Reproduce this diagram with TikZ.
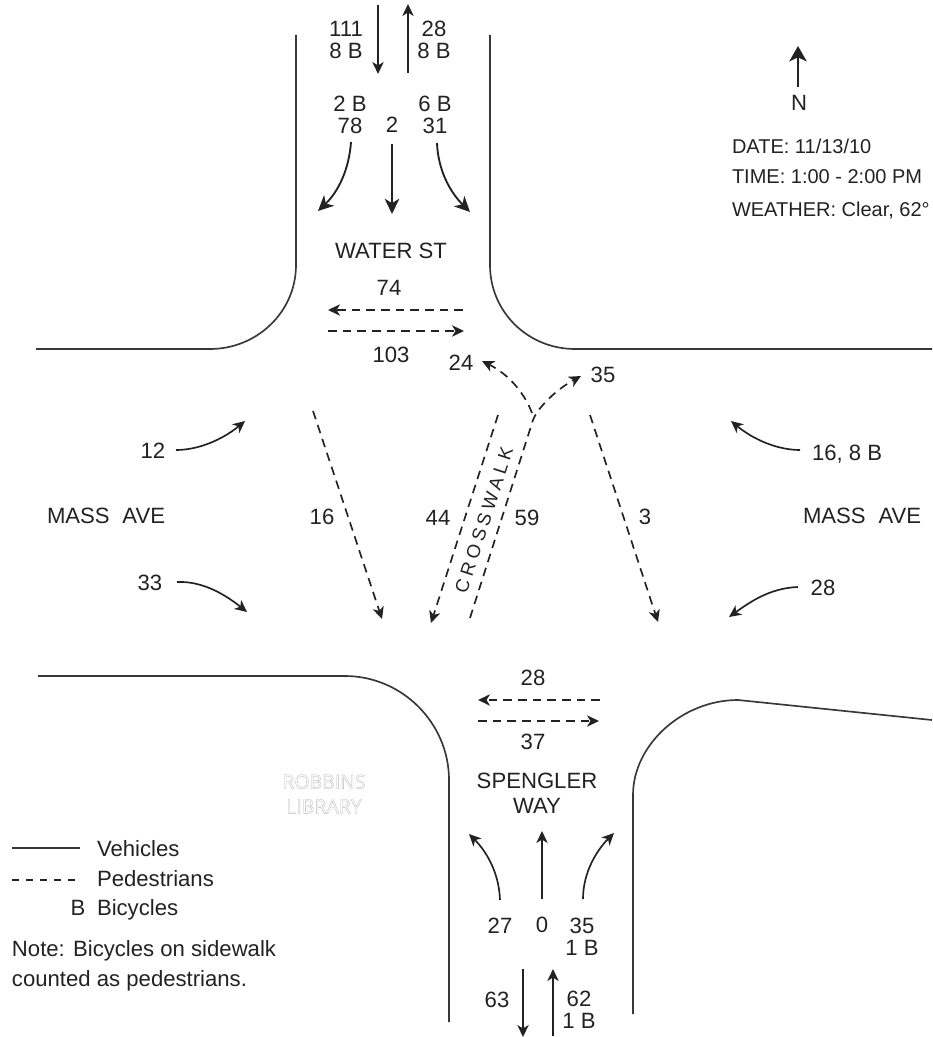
\documentclass[tikz,border=0pt]{standalone}
\usepackage{fontspec}
\setmainfont{Liberation Sans}
\newfontfamily\robfont{Open Sans}
\usetikzlibrary{arrows.meta}
\definecolor{ink}{HTML}{222222}
\tikzset{
  x=0.75pt,y=-0.75pt,
  road/.style={draw=ink!90,line width=1.25pt,line cap=butt},
  veh/.style={draw=ink,line width=1.25pt,-{Stealth[length=9pt,width=8.5pt,inset=2.6pt]}},
  vehbig/.style={draw=ink,line width=1.4pt,-{Stealth[length=11.5pt,width=11pt,inset=3.4pt]}},
  northarrow/.style={draw=ink,line width=2pt,-{Stealth[length=11.5pt,width=13pt,inset=3pt]}},
  ped/.style={draw=ink,line width=1.25pt,dash pattern=on 6.5pt off 4.5pt,-{Stealth[length=9pt,width=8.5pt,inset=2.6pt]}},
  lab/.style={inner sep=0pt,outer sep=0pt,text=ink,font=\fontsize{16.6}{16.4}\selectfont,align=center},
  labl/.style={lab,anchor=west,align=left},
  info/.style={labl,font=\fontsize{15}{16}\selectfont},
}
\begin{document}
\begin{tikzpicture}
\useasboundingbox (0,0) rectangle (932,1037);
% streets
\draw[road] (296,35) -- (296,265) .. controls (296,312) and (257,349) .. (210,349) -- (36,349);
\draw[road] (490,35) -- (490,265) .. controls (490,312) and (528,349) .. (575,349) -- (932,349);
\draw[road] (38,676) -- (345,676) .. controls (402,676) and (449,723) .. (449,780) -- (449,1022);
\draw[road] (633,1014) -- (633,795) .. controls (633,745) and (682,700) .. (738,700) -- (932,720);
% free ends
\coordinate (t1a) at (378,5);    \coordinate (t1b) at (378,74);
\coordinate (t2a) at (408,73);   \coordinate (t2b) at (408,4);
\coordinate (n1a) at (351,142);  \coordinate (n1b) at (318,211);
\coordinate (n2a) at (392,144);  \coordinate (n2b) at (392,214);
\coordinate (n3a) at (437,143);  \coordinate (n3b) at (470,212);
\coordinate (w1a) at (463,310);  \coordinate (w1b) at (328,310);
\coordinate (w2a) at (328,331);  \coordinate (w2b) at (464,331);
\coordinate (e1a) at (176,450);  \coordinate (e1b) at (245,421);
\coordinate (e2a) at (177,582);  \coordinate (e2b) at (247,612);
\coordinate (e3a) at (800,450);  \coordinate (e3b) at (731,421);
\coordinate (e4a) at (798,587);  \coordinate (e4b) at (729,617);
\coordinate (p1a) at (313,411);  \coordinate (p1b) at (382,619);
\coordinate (p2a) at (590,415);  \coordinate (p2b) at (658,622);
\coordinate (c1a) at (498,415);  \coordinate (c1b) at (431,623);
\coordinate (c2a) at (470,618);  \coordinate (c2b) at (533,420);
\coordinate (c2c) at (581,376);
\coordinate (c3a) at (532,413);  \coordinate (c3b) at (482,361);
\coordinate (s1a) at (600,700);  \coordinate (s1b) at (478,700);
\coordinate (s2a) at (478,721);  \coordinate (s2b) at (599,721);
\coordinate (u1a) at (500,900);  \coordinate (u1b) at (469,834);
\coordinate (u2a) at (542,899);  \coordinate (u2b) at (542,831);
\coordinate (u3a) at (583,899);  \coordinate (u3b) at (614,833);
\coordinate (b1a) at (523,969);  \coordinate (b1b) at (523,1037);
\coordinate (b2a) at (553,1036); \coordinate (b2b) at (553,969);
\coordinate (na) at (798,87);    \coordinate (nb) at (798,46);
\coordinate (la) at (12,848);    \coordinate (lb) at (80,848);
\coordinate (ma) at (12,880);    \coordinate (mb) at (80,880);
% connectors
\draw[veh] (t1a) -- (t1b);
\draw[veh] (t2a) -- (t2b);
\draw[vehbig] (n1a) .. controls (349,170) and (338,192) .. (n1b);
\draw[vehbig] (n2a) -- (n2b);
\draw[vehbig] (n3a) .. controls (438,170) and (450,192) .. (n3b);
\draw[ped] (w1a) -- (w1b);
\draw[ped] (w2a) -- (w2b);
\draw[veh] (e1a) .. controls (198,450) and (222,440) .. (e1b);
\draw[veh] (e2a) .. controls (200,581) and (222,592) .. (e2b);
\draw[veh] (e3a) .. controls (778,450) and (754,440) .. (e3b);
\draw[veh] (e4a) .. controls (770,588) and (750,602) .. (e4b);
\draw[ped] (p1a) -- (p1b);
\draw[ped] (p2a) -- (p2b);
\draw[ped] (c1a) -- (c1b);
\draw[ped] (c2a) -- (c2b) .. controls (536,411) and (552,392) .. (c2c);
\draw[ped] (c3a) .. controls (524,392) and (508,374) .. (c3b);
\draw[ped] (s1a) -- (s1b);
\draw[ped] (s2a) -- (s2b);
\draw[veh] (u1a) .. controls (499,872) and (486,851) .. (u1b);
\draw[veh] (u2a) -- (u2b);
\draw[veh] (u3a) .. controls (583,872) and (597,850) .. (u3b);
\draw[veh] (b1a) -- (b1b);
\draw[veh] (b2a) -- (b2b);
\draw[northarrow] (na) -- (nb);
\draw[road] (la) -- (lb);
\draw[draw=ink,line width=1.1pt,dash pattern=on 5.5pt off 5pt] (ma) -- (mb);
% labels
\node[lab] (a111) at (346,40) {111\\8 B};
\node[lab] (a28) at (434,40) {28\\8 B};
\node[lab] (a2b) at (350,115) {2 B\\78};
\node[lab] (a2) at (392,125) {2};
\node[lab] (a6b) at (435,115) {6 B\\31};
\node[lab] (water) at (391,251) {WATER ST};
\node[lab] (a74) at (389,288) {74};
\node[lab] (a103) at (391,355) {103};
\node[lab] (a24) at (461,363) {24};
\node[lab] (a35) at (603,375) {35};
\node[lab] (a12) at (153,451) {12};
\node[lab] (a33) at (150,583) {33};
\node[labl] (a168) at (812,454) {16, 8 B};
\node[lab] (b28) at (823,588) {28};
\node[labl] (massw) at (47,516) {MASS\hspace{.3em} AVE};
\node[labl] (masse) at (803,516) {MASS\hspace{.3em} AVE};
\node[lab] (a16) at (322,517) {16};
\node[lab] (a44) at (438,518) {44};
\node[lab] (a59) at (527,518) {59};
\node[lab] (a3) at (645,517) {3};
\node[lab,rotate=72,font=\fontsize{14}{15}\selectfont\addfontfeature{LetterSpace=22}] (cw) at (484,520) {CROSSWALK};
\node[lab] (c28) at (533,678) {28};
\node[lab] (c37) at (533,742) {37};
\node[lab,font=\fontsize{16.6}{19}\selectfont] (sp) at (537,793) {SPENGLER\\WAY};
\node[lab] (a27) at (500,926) {27};
\node[lab] (a0) at (542,925) {0};
\node[lab] (a35b) at (582,937) {35\\1 B};
\node[lab] (a63) at (497,1000) {63};
\node[lab] (a62) at (579,1010) {62\\1 B};
\node[lab] (north) at (799,103) {N};
\node[info] (date) at (732,146) {DATE: 11/13/10};
\node[info] (time) at (732,177) {TIME: 1:00 - 2:00 PM};
\node[info] (wx) at (732,211) {WEATHER: Clear, 62\textdegree};
\node[lab,text=gray!45,font=\robfont\fontsize{14.6}{18.5}\selectfont] (rob) at (324,794) {\special{pdf:code 1 Tr 0.25 w 0.72 G}ROBBINS\\\special{pdf:code 1 Tr 0.25 w 0.72 G}LIBRARY\special{pdf:code 0 Tr 1 w 0 G}};
\node[labl] (lv) at (97,849) {Vehicles};
\node[labl] (lp) at (97,879) {Pedestrians};
\node[lab] (lbb) at (78,908) {B};
\node[labl] (lc) at (97,910) {Bicycles};
\node[labl,font=\fontsize{16.6}{22.5}\selectfont] (note) at (12,966) {Note: Bicycles on sidewalk\\counted as pedestrians.};
\end{tikzpicture}
\end{document}
